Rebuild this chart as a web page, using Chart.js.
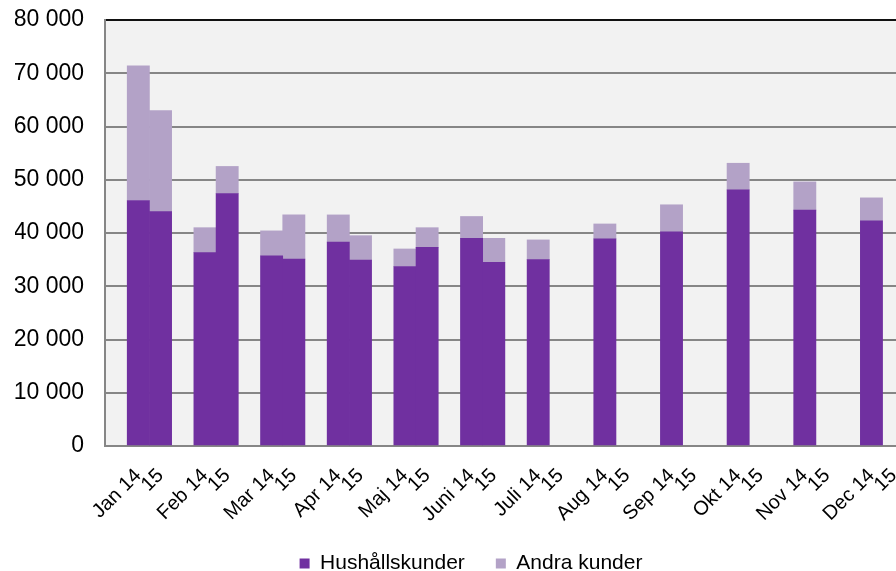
<!DOCTYPE html>
<html>
<head>
<meta charset="utf-8">
<script src="https://cdn.jsdelivr.net/npm/chart.js@4.4.1/dist/chart.umd.min.js"></script>
<style>
    html, body { margin: 0; padding: 0; background: #fff; overflow: hidden; }
    #wrap { width: 952px; height: 571px; }
</style>
</head>
<body>
<div id="wrap"><canvas id="chart"></canvas></div>
<script>
    // Monthly values, 2014 and 2015 (2015 only known through June)
    const months = ['Jan', 'Feb', 'Mar', 'Apr', 'Maj', 'Juni', 'Juli', 'Aug', 'Sep', 'Okt', 'Nov', 'Dec'];
    const hushall14 = [46100, 36300, 35700, 38300, 33700, 39000, 35000, 38900, 40200, 48100, 44300, 42300];
    const andra14 = [25300, 4700, 4700, 5100, 3300, 4100, 3700, 2800, 5100, 5000, 5300, 4300];
    const hushall15 = [44000, 47400, 35100, 34900, 37300, 34500, null, null, null, null, null, null];
    const andra15 = [19000, 5100, 8300, 4600, 3700, 4500, null, null, null, null, null, null];
    const yTicks = [0, 10000, 20000, 30000, 40000, 50000, 60000, 70000, 80000];

    // slots: blank, "Mån 14", "15", blank, ...
    const labels = [''];
    const hushData = [null];
    const andraData = [null];
    months.forEach((m, i) => {
        labels.push(m + ' 14', '15', '');
        hushData.push(hushall14[i], hushall15[i], null);
        andraData.push(andra14[i], andra15[i], null);
    });

    const plotBg = {
        id: 'plotBg',
        beforeDraw(chart) {
            const { ctx, chartArea } = chart;
            ctx.save();
            ctx.fillStyle = '#f2f2f2';
            ctx.fillRect(chartArea.left, chartArea.top, chartArea.right - chartArea.left, chartArea.bottom - chartArea.top);
            ctx.restore();
        }
    };

    const font = 'Arial, "Liberation Sans", sans-serif';

    new Chart(document.getElementById('chart'), {
        type: 'bar',
        data: {
            labels: labels,
            datasets: [{
                label: 'Hushållskunder',
                data: hushData,
                backgroundColor: '#7030a0',
                borderWidth: 0,
                barPercentage: 1,
                categoryPercentage: 1
            }, {
                label: 'Andra kunder',
                data: andraData,
                backgroundColor: '#b3a2c7',
                borderWidth: 0,
                barPercentage: 1,
                categoryPercentage: 1
            }]
        },
        options: {
            responsive: true,
            maintainAspectRatio: false,
            animation: false,
            layout: { padding: { top: 20, right: 25, left: 15, bottom: -13 } },
            plugins: {
                legend: {
                    position: 'bottom',
                    labels: {
                        boxWidth: 10,
                        boxHeight: 10,
                        padding: 31,
                        color: '#000',
                        font: { family: font, size: 21 }
                    }
                },
                tooltip: { enabled: false }
            },
            scales: {
                x: {
                    stacked: true,
                    grid: { display: false, drawTicks: false },
                    border: { display: true, color: '#868686', width: 2 },
                    ticks: {
                        autoSkip: false,
                        maxRotation: 45,
                        minRotation: 45,
                        padding: 18,
                        color: '#000',
                        font: { family: font, size: 20 }
                    },
                    afterFit(scale) { scale.height = 76; }
                },
                y: {
                    stacked: true,
                    min: 0,
                    max: 80000,
                    afterBuildTicks(scale) { scale.ticks = yTicks.map(v => ({ value: v })); },
                    grid: {
                        drawTicks: true,
                        tickLength: 19,
                        tickColor: 'rgba(0,0,0,0)',
                        lineWidth: 2,
                        color: ctx => ctx.tick && ctx.tick.value === 80000 ? '#111' : '#868686'
                    },
                    border: { display: true, color: '#868686', width: 2 },
                    ticks: {
                        padding: 2,
                        color: '#000',
                        font: { family: font, size: 23 },
                        callback: v => String(v).replace(/\B(?=(\d{3})+(?!\d))/g, ' ')
                    },
                    afterFit(scale) { scale.width = 90; }
                }
            }
        },
        plugins: [plotBg]
    });
</script>
</body>
</html>
